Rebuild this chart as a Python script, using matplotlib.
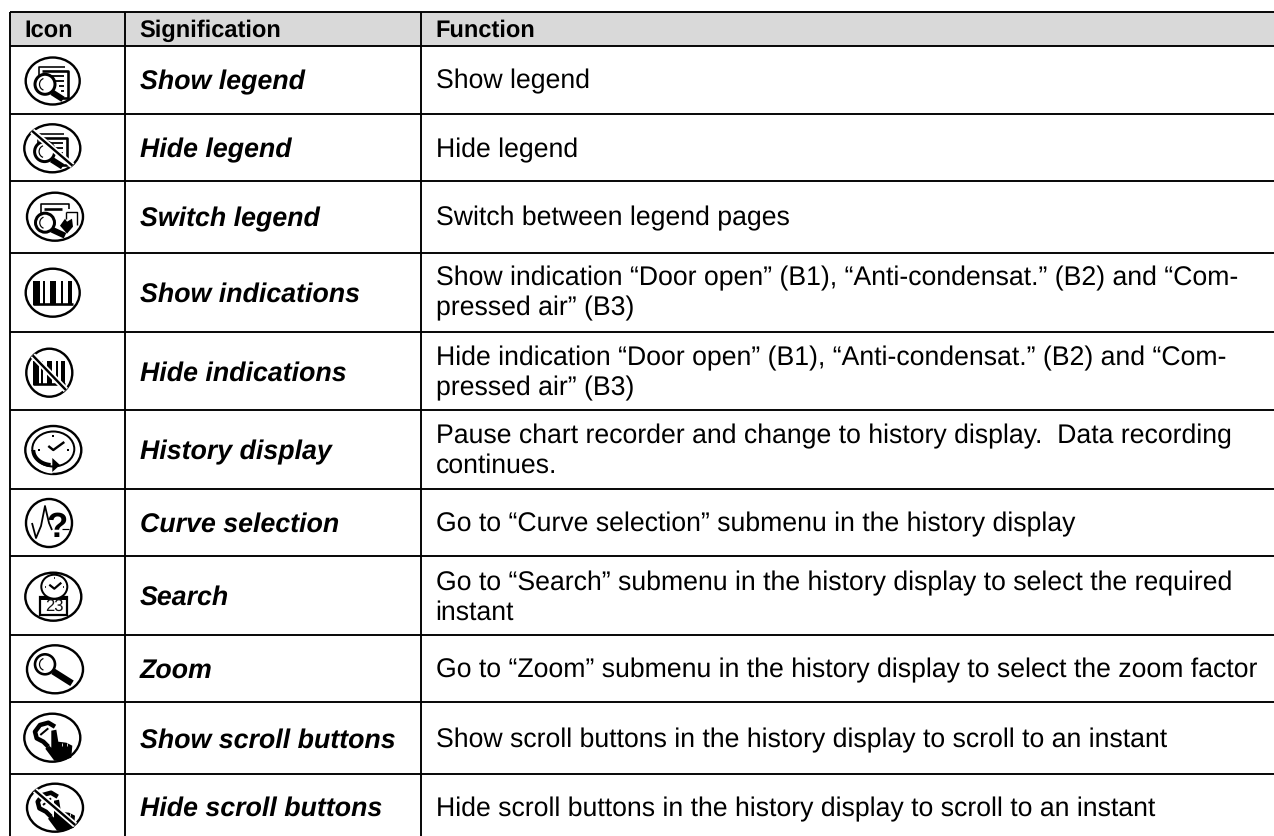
import numpy as np
import matplotlib
matplotlib.use("Agg")
import matplotlib.pyplot as plt
from matplotlib.patches import Ellipse, Rectangle, Polygon, Circle, Arc

# ---- table content
headers = ["Icon", "Signification", "Function"]
significations = ["Show legend", "Hide legend", "Switch legend", "Show indications",
                  "Hide indications", "History display", "Curve selection", "Search",
                  "Zoom", "Show scroll buttons", "Hide scroll buttons"]
functions = [
    ["Show legend"],
    ["Hide legend"],
    ["Switch between legend pages"],
    ["Show indication “Door open” (B1), “Anti-condensat.” (B2) and “Com-", "pressed air” (B3)"],
    ["Hide indication “Door open” (B1), “Anti-condensat.” (B2) and “Com-", "pressed air” (B3)"],
    ["Pause chart recorder and change to history display.  Data recording", "continues."],
    ["Go to “Curve selection” submenu in the history display"],
    ["Go to “Search” submenu in the history display to select the required", "instant"],
    ["Go to “Zoom” submenu in the history display to select the zoom factor"],
    ["Show scroll buttons in the history display to scroll to an instant"],
    ["Hide scroll buttons in the history display to scroll to an instant"],
]
icon_kinds = ["legend", "legend_off", "legend_switch", "bars", "bars_off", "history",
              "curve", "search", "zoom", "scroll", "scroll_off"]

# ---- layout (pixels)
W, H = 1274, 836
h_lines = [12, 45.5, 113.5, 181, 252.5, 331.7, 409.7, 488.7, 555.8, 634.8, 701.7, 773.7]
v_lines = [10.3, 124.7, 420.8]
header_x = [24, 139.5, 435.5]
sig_base = [89, 157, 226.5, 301.5, 381, 459, 531.5, 605, 677.5, 747.5, 816]
fun_base = [[88.5], [157], [225], [285, 315], [365, 395], [443, 473], [531.5], [590, 620],
            [677.5], [747.5], [816.5]]
icon_c = [(52.7, 81), (52.3, 148.3), (55, 216.7), (52.7, 292.7), (49.3, 372.7), (53.3, 450),
          (49, 523), (53.3, 596.7), (55, 669.3), (52.3, 737.7), (55, 807.7)]
icon_r = [(27, 23.5), (28, 24), (28, 24), (27, 24), (23, 24), (28, 24),
          (23, 24), (28, 24), (28, 24), (28, 24), (28, 24)]

plt.rcParams['font.family'] = ['Liberation Sans', 'DejaVu Sans']
plt.rcParams['text.hinting'] = 'no_hinting'
fig = plt.figure(figsize=(W / 100, H / 100), dpi=100, facecolor='white')
ax = fig.add_axes([0, 0, 1, 1])
ax.set_xlim(0, W)
ax.set_ylim(H, 0)
ax.axis('off')

LW = 1.9 * 72 / 100  # 1.9 px


def line(xs, ys, lw=1.0, c='black', z=4, cap='butt'):
    ax.plot(xs, ys, color=c, lw=lw * 0.72, solid_capstyle=cap, zorder=z, solid_joinstyle='round')


def ell(cx, cy, rx, ry, lw=1.0):
    ax.add_patch(Ellipse((cx, cy), 2 * rx, 2 * ry, fill=False, ec='black', lw=lw * 0.72, zorder=4))


def doc(cx, cy):
    x0, x1, y0, y1 = cx - 14, cx + 15, cy - 14, cy + 17
    line([x0, x0, x1 - 3], [cy - 3, y0, y0], 1.6)
    line([x0 + 3, x1, x1, cx + 7], [y0 + 4, y0 + 4, y1, y1], 2.6)
    for dy, a in zip((-5, 0, 5, 10), (-6, 1, 6, 8)):
        line([cx + a, cx + 11], [cy + dy, cy + dy], 1.8)


def glass(cx, cy, r=10.0, hx=(7, 18), hy=(8, 15), lw=3.0, hw=6.0):
    ax.add_patch(Circle((cx, cy), r, fc='white', ec='black', lw=lw * 0.72, zorder=4))
    ax.add_patch(Arc((cx, cy), r * 1.1, r * 1.2, theta1=105, theta2=255, color='black',
                     lw=1.2 * 0.72, zorder=5))
    line([cx + hx[0], cx + hx[1]], [cy + hy[0], cy + hy[1]], hw)


def bars(cx, cy, s=1.0):
    # black pulses on a common base line, open at the top
    ax.add_patch(Rectangle((cx - 20 * s, cy - 12), 7 * s, 24, fc='black', ec='none', zorder=4))
    ax.add_patch(Rectangle((cx - 3 * s, cy - 12), 6 * s, 24, fc='black', ec='none', zorder=4))
    ax.add_patch(Rectangle((cx + 15 * s, cy - 12), 4 * s, 24, fc='black', ec='none', zorder=4))
    line([cx - 20 * s, cx + 20 * s], [cy + 11, cy + 11], 2.6)
    line([cx - 9 * s, cx - 9 * s], [cy - 12, cy + 11], 2.0)
    line([cx + 9 * s, cx + 9 * s], [cy - 12, cy + 11], 2.0)


def slash(cx, cy, rx, ry):
    k = 0.72
    line([cx - rx * k, cx + rx * k], [cy - ry * k, cy + ry * k], 6.0, c='white', z=6)
    line([cx - rx * k, cx + rx * k], [cy - ry * k, cy + ry * k], 2.4, z=7)


def clock(cx, cy, rx, ry, lw=2.0):
    ax.add_patch(Ellipse((cx, cy), 2 * rx, 2 * ry, fc='white', ec='black', lw=lw * 0.72, zorder=6))
    line([cx - 5, cx, cx + 7], [cy - 2, cy + 2, cy - 4], 2.2, z=7)
    for dx, dy in ((0, -9), (-9, 0), (9, 0)):
        line([cx + dx - .8, cx + dx + .8], [cy + dy, cy + dy], 1.6, z=7)


def hand(cx, cy):
    pts = [(-1, -7), (4, -8), (6, 4), (14, 5), (20, 8), (19, 20), (10, 23), (2, 23), (-7, 11),
           (-3, 8), (-1, 10)]
    ax.add_patch(Polygon([(cx + x, cy + y) for x, y in pts], fc='black', ec='none', zorder=5))
    for dx in (9.5, 14.5):
        line([cx + dx, cx + dx], [cy + 5, cy + 8], 0.8, c='white', z=5)
    # curved pointer-ring round the fingertip
    line([cx + 2.7, cx - 4, cx - 12.3, cx - 17.3, cx - 15.6, cx - 9, cx - 4],
         [cy - 11, cy - 15, cy - 12.7, cy - 6, cy + .6, cy + 4, cy + 9], 4.5)
    line([cx - 12, cx - 4], [cy - 2.7, cy - 9.4], 2.0)


def draw_icon(kind, c, r):
    cx, cy = c
    rx, ry = r
    ell(cx, cy, rx, ry, 2.4)
    if kind in ("legend", "legend_off"):
        doc(cx, cy)
        glass(cx - 7.7, cy + 3.3)
    elif kind == "legend_switch":
        line([cx - 14, cx - 14, cx + 14, cx + 14], [cy - 2, cy - 13, cy - 13, cy - 8], 1.6)
        line([cx - 11, cx + 7], [cy - 8, cy - 8], 2.6)
        line([cx + 11, cx + 22, cx + 22], [cy - 5, cy - 5, cy + 8], 1.4)
        line([cx + 11, cx + 11], [cy - 5, cy + 2], 1.4)
        glass(cx - 10, cy + 6, r=9.5, hx=(7, 20), hy=(7, 13))
        ax.add_patch(Polygon([(cx + 5, cy + 9), (cx + 10, cy + 2), (cx + 12, cy + 5), (cx + 17, cy + 2),
                              (cx + 18, cy + 10), (cx + 12, cy + 17)], fc='black', ec='none', zorder=5))
    elif kind == "bars":
        bars(cx, cy)
    elif kind == "bars_off":
        bars(cx, cy, 0.8)
    elif kind == "history":
        ell(cx, cy - 1, rx - 7, ry - 6.5, 2.0)
        line([cx - 5, cx, cx + 11], [cy - 4, cy, cy - 8], 2.4)
        for dx, dy in ((0, -14), (-14, 0), (15, 0)):
            line([cx + dx - 1, cx + dx + 1], [cy + dy, cy + dy], 2.0)
        # sweep arrow with a white band under it
        t = np.linspace(np.radians(180), np.radians(268), 30)
        line(cx + 22 * np.cos(t), cy + 1 - 20 * np.sin(t), 5.0, c='white', z=4.5)
        t = np.linspace(np.radians(180), np.radians(265), 30)
        line(cx - 1 + 19 * np.cos(t), cy + 0 - 15 * np.sin(t), 4.0, z=5)
        ax.add_patch(Polygon([(cx - 1, cy + 8), (cx + 6.7, cy + 15), (cx - 1, cy + 22)],
                             fc='black', ec='none', zorder=5))
    elif kind == "curve":
        line([cx - 17, cx - 13, cx - 8, cx - 4, cx, cx + 3],
             [cy, cy + 15, cy + 3, cy - 17, cy, cy + 7], 1.8)
        ax.text(cx + 8, cy + 14, "?", fontsize=25, fontweight='bold', ha='center', va='baseline', zorder=6)
        line([cx + 13, cx + 20], [cy + 6, cy + 6], 1.2)
    elif kind == "search":
        ax.add_patch(Rectangle((cx - 13.5, cy), 27, 18, fc='white', ec='black', lw=1.6, zorder=5))
        line([cx - 13.5, cx + 13.5], [cy + 1, cy + 1], 3.0, z=5)
        clock(cx + 1, cy - 10, 13, 12)
        ax.text(cx + 1, cy + 15, "23", fontsize=12, ha='center', va='baseline', zorder=6, color='#111111')
    elif kind == "zoom":
        glass(cx - 10, cy - 5, r=10, hx=(8, 27), hy=(7, 19), lw=2.6, hw=6.5)
    elif kind in ("scroll", "scroll_off"):
        hand(cx, cy)
    if kind.endswith("_off"):
        slash(cx, cy, rx, ry)


# header shading
ax.add_patch(Rectangle((v_lines[0], h_lines[0]), W - v_lines[0], h_lines[1] - h_lines[0],
                       fc='#d9d9d9', ec='none', zorder=1))

# grid
for y in h_lines:
    ax.plot([v_lines[0], W], [y, y], color='black', lw=LW, zorder=3, solid_capstyle='butt')
for x in v_lines:
    ax.plot([x, x], [h_lines[0], H], color='black', lw=LW, zorder=3, solid_capstyle='butt')

# text
HEAD, BODY, SIG = 17.0, 19.17, 19.25
for x, t in zip(header_x, headers):
    ax.text(x, 36.5, t, fontsize=HEAD, fontweight='bold', va='baseline', ha='left', color='black', zorder=6)
for y, t in zip(sig_base, significations):
    ax.text(header_x[1] + .5, y, t, fontsize=SIG, fontweight='bold', fontstyle='italic', va='baseline', ha='left',
            color='black', zorder=6)
for ys, lines in zip(fun_base, functions):
    for y, t in zip(ys, lines):
        ax.text(header_x[2], y, t, fontsize=BODY, va='baseline', ha='left', color='black', zorder=6)

for k, c, r in zip(icon_kinds, icon_c, icon_r):
    draw_icon(k, c, r)

fig.savefig("out.png", dpi=100, facecolor='white')
